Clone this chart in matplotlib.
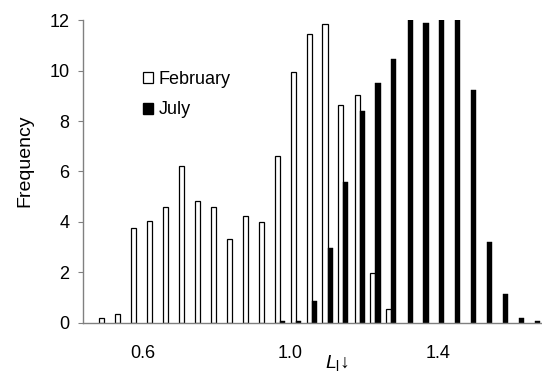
import matplotlib
matplotlib.use("Agg")
import matplotlib.pyplot as plt
from matplotlib.patches import Patch

plt.rcParams['font.family'] = ['Liberation Sans', 'DejaVu Sans']
plt.rcParams['mathtext.fontset'] = 'custom'
plt.rcParams['mathtext.rm'] = 'Liberation Sans'
plt.rcParams['mathtext.it'] = 'Liberation Sans:italic'

# bin centres (L_l down)
bins = [0.495, 0.538, 0.582, 0.625, 0.668, 0.712, 0.755, 0.798, 0.841, 0.885,
        0.928, 0.971, 1.015, 1.058, 1.101, 1.144, 1.188, 1.231, 1.274, 1.318,
        1.361, 1.404, 1.447, 1.491, 1.534, 1.577, 1.621, 1.664]
february = [0.2, 0.35, 3.76, 4.05, 4.58, 6.2, 4.82, 4.58, 3.31, 4.24,
            4.01, 6.6, 9.95, 11.45, 11.85, 8.62, 9.03, 1.97, 0.54, 0,
            0, 0, 0, 0, 0, 0, 0, 0]
july = [0, 0, 0, 0, 0, 0, 0, 0, 0, 0,
        0, 0.08, 0.08, 0.88, 2.98, 5.58, 8.41, 9.52, 10.44, 12.6,
        11.89, 12.6, 12.6, 9.23, 3.2, 1.14, 0.19, 0.08]
xticks = [0.6, 1.0, 1.4]
xticklabels = ['0.6', '1.0', '1.4']
yticks = [0, 2, 4, 6, 8, 10, 12]

fig = plt.figure(figsize=(5.42, 3.74), dpi=100)
ax = fig.add_axes([0.1537, 0.1364, 0.8445, 0.8101])

w = 0.0138
fx = [x for x, v in zip(bins, february) if v > 0]
fv = [v for v in february if v > 0]
jx = [x for x, v in zip(bins, july) if v > 0]
jv = [v for v in july if v > 0]
ax.bar(fx, fv, width=-w, align='edge', facecolor='white', edgecolor='black',
       linewidth=0.9, label='February', zorder=3)
ax.bar(jx, jv, width=w, align='edge', facecolor='black', edgecolor='black',
       linewidth=0.3, label='July', zorder=3)

ax.set_xlim(0.4385, 1.68)
ax.set_ylim(0, 12)
ax.set_yticks(yticks)
ax.set_xticks(xticks)
ax.set_xticklabels(xticklabels)
ax.tick_params(axis='x', length=0, pad=15.5, labelsize=13)
ax.tick_params(axis='y', length=3.6, width=0.8, color='#808080', pad=6.5, labelsize=13)
for s in ['top', 'right']:
    ax.spines[s].set_visible(False)
for s in ['left', 'bottom']:
    ax.spines[s].set_color('#808080')
    ax.spines[s].set_linewidth(1.0)
    ax.spines[s].set_zorder(4)

fig.text(0.046, 0.571, 'Frequency', rotation=90, ha='center', va='center', fontsize=14)
fig.text(0.622, 0.004, r'$L_{\mathrm{l}}\!\downarrow$', ha='center', va='bottom', fontsize=14)

handles = [Patch(facecolor='white', edgecolor='black', linewidth=0.9),
           Patch(facecolor='black', edgecolor='black')]
ax.legend(handles, ['February', 'July'], loc='upper left',
          bbox_to_anchor=(0.131, 0.832), frameon=False, fontsize=13,
          handlelength=0.55, handleheight=0.55, handletextpad=0.3,
          labelspacing=0.75, borderpad=0, borderaxespad=0)

fig.savefig('out.png', dpi=100)
